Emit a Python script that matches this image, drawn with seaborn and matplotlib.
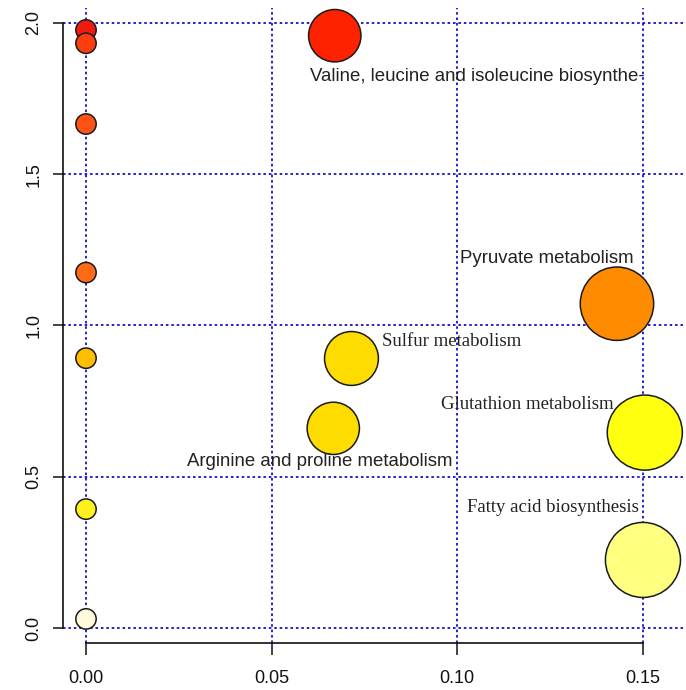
import pandas as pd
import matplotlib
matplotlib.use("Agg")
import matplotlib.pyplot as plt
import seaborn as sns

# data (x = pathway impact, y = -log(p))
pathway_ids = ["v1", "v2", "v3", "v4", "v5", "v6", "v7",
               "p1", "p2", "p3", "p4", "p5", "p6"]
pathway_names = ["", "", "", "", "", "", "",
                 "Valine, leucine and isoleucine biosynthe-",
                 "Pyruvate metabolism",
                 "Sulfur metabolism",
                 "Glutathion metabolism",
                 "Arginine and proline metabolism",
                 "Fatty acid biosynthesis"]
impact = [0.0, 0.0, 0.0, 0.0, 0.0, 0.0, 0.0,
          0.067, 0.143, 0.0715, 0.1505, 0.0666, 0.150]
neg_log_p = [1.977, 1.933, 1.666, 1.175, 0.892, 0.393, 0.030,
             1.958, 1.072, 0.891, 0.646, 0.660, 0.225]
point_colors = ["#f01a10", "#fb3d10", "#ff5214", "#ff6a14", "#ffbe00", "#fff020", "#fffadc",
                "#ff2200", "#ff8c00", "#ffdc00", "#ffff10", "#ffdc00", "#ffff80"]

df = pd.DataFrame({"id": pathway_ids, "name": pathway_names,
                   "impact": impact, "logp": neg_log_p})

sns.set_style("white")
plt.rcParams['font.family'] = ['Liberation Sans', 'DejaVu Sans']

fig = plt.figure(figsize=(6.86, 6.9), dpi=100)
# axes box in pixels: left 63, right 686, top 8, bottom 643
ax = fig.add_axes([63 / 686, 1 - 643 / 690, (686 - 63) / 686, (643 - 8) / 690])

px_x = 3713.0   # pixels per unit of impact
px_y = 302.5    # pixels per unit of -log(p)
ax.set_xlim((63 - 86) / px_x, (686 - 86) / px_x)
ax.set_ylim(-(643 - 628) / px_y, 2 + (23 - 8) / px_y)

# blue dotted grid
grid_kw = dict(color="#1010c8", lw=1.3, ls=(0, (1.4, 1.6)), zorder=1)
for gx in [0, 0.05, 0.10, 0.15]:
    ax.axvline(gx, **grid_kw)
for gy in [0, 0.5, 1.0, 1.5, 2.0]:
    ax.axhline(gy, **grid_kw)

sns.scatterplot(data=df, x="impact", y="logp", hue="id",
                palette=dict(zip(pathway_ids, point_colors)),
                size="impact", sizes=(215, 2920), size_norm=(0, 0.15),
                edgecolor="#1a1a1a", linewidth=1.1, alpha=1,
                legend=False, ax=ax, zorder=3)

# labels placed like in the original
label_pos = {
    "Valine, leucine and isoleucine biosynthe-": (0.0603, 1.824, "sans"),
    "Pyruvate metabolism": (0.1007, 1.22, "sans"),
    "Sulfur metabolism": (0.0796, 0.947, "serif"),
    "Glutathion metabolism": (0.0956, 0.74, "serif"),
    "Arginine and proline metabolism": (0.0271, 0.55, "sans"),
    "Fatty acid biosynthesis": (0.1025, 0.397, "serif"),
}
for name, (tx, ty, fam) in label_pos.items():
    if fam == "serif":
        ax.text(tx, ty, name, ha="left", va="center", fontsize=13.5,
                family=["Liberation Serif", "DejaVu Serif"], color="#222222", zorder=4)
    else:
        ax.text(tx, ty, name, ha="left", va="center", fontsize=13.4,
                color="#222222", zorder=4)

# R-style axes
ax.set_xticks([0, 0.05, 0.10, 0.15])
ax.set_xticklabels(["0.00", "0.05", "0.10", "0.15"])
ax.set_yticks([0, 0.5, 1.0, 1.5, 2.0])
ax.set_yticklabels(["0.0", "0.5", "1.0", "1.5", "2.0"], rotation=90, va="center")
ax.tick_params(axis="both", direction="out", width=1.1,
               labelsize=13, colors="#111111", left=True, bottom=True)
ax.tick_params(axis="y", length=7, pad=8)
ax.tick_params(axis="x", length=8.5, pad=11)
for side in ["top", "right"]:
    ax.spines[side].set_visible(False)
ax.spines["left"].set_bounds(0, 2.0)
ax.spines["bottom"].set_bounds(0, 0.15)
for side in ["left", "bottom"]:
    ax.spines[side].set_linewidth(1.2)
    ax.spines[side].set_color("#111111")

# y label sits mostly outside the picture, as in the cropped original
ax.set_xlabel("")
ax.set_ylabel("-log(p)", fontsize=13)
ax.yaxis.set_label_coords(-0.105, 0.52)

fig.savefig("out.png", dpi=100)
